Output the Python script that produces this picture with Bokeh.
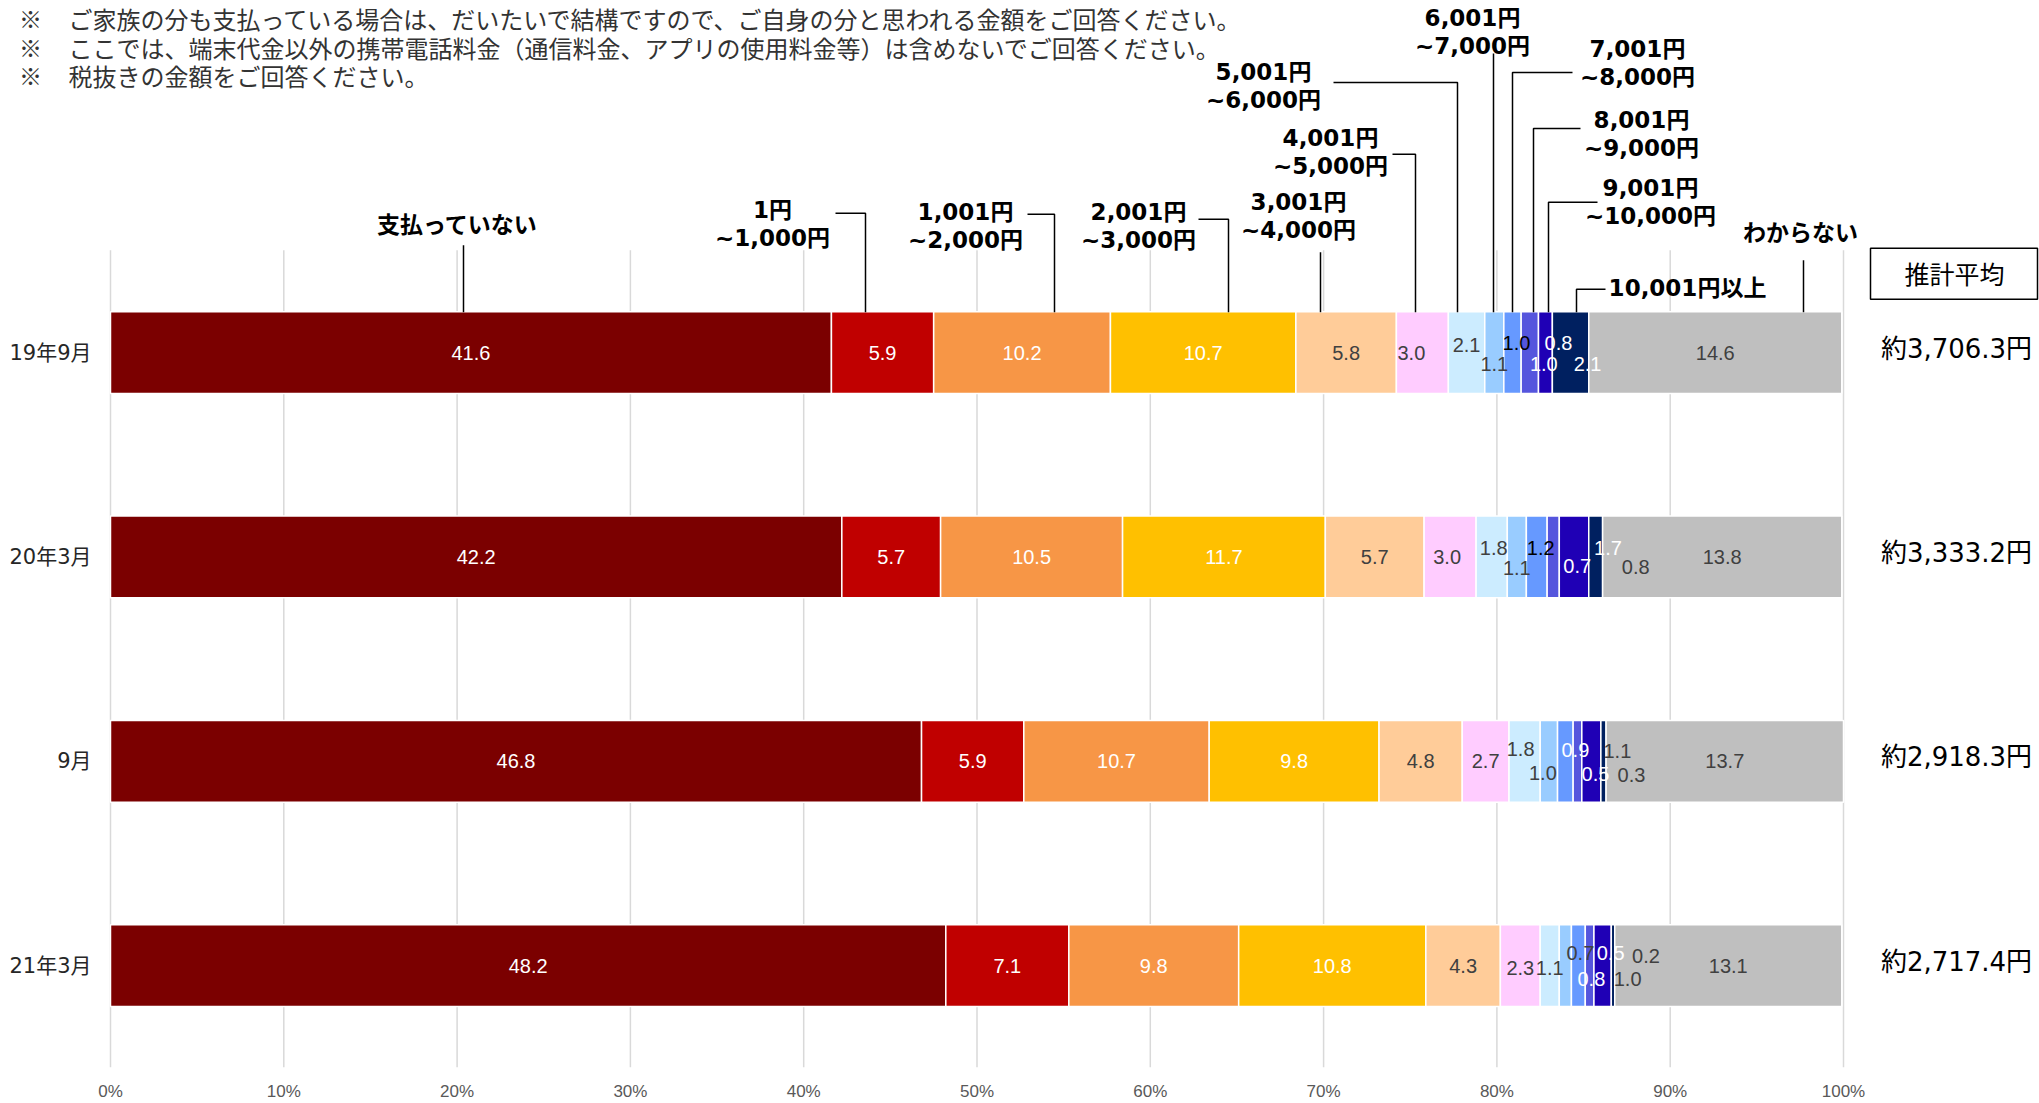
import numpy as np
from bokeh.plotting import figure
from bokeh.models import ColumnDataSource, Range1d, FixedTicker
from bokeh.core.properties import value
from bokeh.embed import file_html
from bokeh.resources import INLINE

# ---------------- data ----------------
ROWS = ["19年9月", "20年3月", "9月", "21年3月"]
SERIES = ["支払っていない", "1円\n~1,000円", "1,001円\n~2,000円", "2,001円\n~3,000円",
          "3,001円\n~4,000円", "4,001円\n~5,000円", "5,001円\n~6,000円", "6,001円\n~7,000円",
          "7,001円\n~8,000円", "8,001円\n~9,000円", "9,001円\n~10,000円", "10,001円以上", "わからない"]
not_paying   = [41.6, 42.2, 46.8, 48.2]
yen_1_1000   = [5.9, 5.7, 5.9, 7.1]
yen_1001_2000 = [10.2, 10.5, 10.7, 9.8]
yen_2001_3000 = [10.7, 11.7, 9.8, 10.8]
yen_3001_4000 = [5.8, 5.7, 4.8, 4.3]
yen_4001_5000 = [3.0, 3.0, 2.7, 2.3]
yen_5001_6000 = [2.1, 1.8, 1.8, 1.1]
yen_6001_7000 = [1.1, 1.1, 1.0, 0.7]
yen_7001_8000 = [1.0, 1.2, 0.9, 0.8]
yen_8001_9000 = [1.0, 0.7, 0.5, 0.5]
yen_9001_10000 = [0.8, 1.7, 1.1, 1.0]
yen_10001_plus = [2.1, 0.8, 0.3, 0.2]
unknown      = [14.6, 13.8, 13.7, 13.1]
AVERAGES = ["約3,706.3円", "約3,333.2円", "約2,918.3円", "約2,717.4円"]
AVG_TITLE = "推計平均"
TICKS = [0, 10, 20, 30, 40, 50, 60, 70, 80, 90, 100]
TICK_LABELS = ["0%", "10%", "20%", "30%", "40%", "50%", "60%", "70%", "80%", "90%", "100%"]
NOTES = ["ご家族の分も支払っている場合は、だいたいで結構ですので、ご自身の分と思われる金額をご回答ください。",
         "ここでは、端末代金以外の携帯電話料金（通信料金、アプリの使用料金等）は含めないでご回答ください。",
         "税抜きの金額をご回答ください。"]

VALUES = [not_paying, yen_1_1000, yen_1001_2000, yen_2001_3000, yen_3001_4000, yen_4001_5000,
          yen_5001_6000, yen_6001_7000, yen_7001_8000, yen_8001_9000, yen_9001_10000,
          yen_10001_plus, unknown]

# ---------------- style / layout ----------------
COLORS = ["#7B0000", "#C00000", "#F79646", "#FFC000", "#FFCC99", "#FFCCFF", "#CCECFF",
          "#99CCFF", "#6699FF", "#5555DD", "#1F00B5", "#002060", "#BFBFBF"]
W_, D_, K_ = "white", "#404040", "#000000"
LABEL_COLORS = [
    [W_, W_, W_, W_, D_, D_, D_, D_, K_, W_, W_, W_, D_],
    [W_, W_, W_, W_, D_, D_, D_, D_, K_, W_, W_, D_, D_],
    [W_, W_, W_, W_, D_, D_, D_, D_, W_, W_, D_, D_, D_],
    [W_, W_, W_, W_, D_, D_, D_, D_, W_, W_, D_, D_, D_],
]
# label offsets in pixels (dx, dy) per row / segment
LABEL_OFF = [
    [(0, 0)] * 5 + [(-11, 0), (0, -8), (0, 11), (4, -10), (14, 11), (13, -10), (17, 11), (0, 0)],
    [(0, 0)] * 5 + [(-3, 0), (2, -9), (0, 11), (4, -9), (24, 9), (34, -9), (40, 10), (0, 0)],
    [(0, 0)] * 5 + [(0, 0), (-4, -12), (-6, 12), (10, -11), (18, 13), (26, -10), (28, 14), (0, 0)],
    [(0, 0)] * 5 + [(0, 2), (0, 2), (15, -13), (13, 13), (21, -13), (25, 13), (33, -10), (0, 0)],
]
# top category labels: (center x px, first line y px, leader polyline in px)
TOP_LAYOUT = [
    (457, 225, [(463, 245), (463, 312)]),
    (772, 210, [(835, 213), (865, 213), (865, 312)]),
    (965, 212, [(1027, 214), (1054, 214), (1054, 312)]),
    (1138, 212, [(1198, 219), (1228, 219), (1228, 312)]),
    (1298, 202, [(1320, 252), (1320, 312)]),
    (1330, 138, [(1392, 154), (1415, 154), (1415, 312)]),
    (1263, 72, [(1333, 82), (1457, 82), (1457, 312)]),
    (1472, 18, [(1493, 53), (1493, 312)]),
    (1637, 49, [(1572, 72), (1512, 72), (1512, 312)]),
    (1641, 120, [(1580, 128), (1533, 128), (1533, 312)]),
    (1650, 188, [(1597, 202), (1548, 202), (1548, 312)]),
    (1687, 288, [(1605, 289), (1576, 289), (1576, 312)]),
    (1800, 233, [(1803, 260), (1803, 312)]),
]

W, H = 2039, 1103
FH = 1068
PX0, PXPER = 110.0, 17.33
ROW0, ROWSTEP = 352.5, 204.5
BAR_H = 0.40
FONT = "DejaVu Sans, Noto Sans CJK JP"
CJK = "Noto Sans CJK JP"


def dx(px):
    return (px - PX0) / PXPER


def dy(py):
    return (py - ROW0) / ROWSTEP


p = figure(width=W, height=H, x_range=Range1d(dx(0), dx(W)), y_range=Range1d(dy(FH), dy(0)),
           output_backend="svg", toolbar_location=None, y_axis_location=None,
           min_border=0, outline_line_color=None, background_fill_color="white")
p.min_border_left = p.min_border_right = p.min_border_top = p.min_border_bottom = 0
p.grid.visible = False

# gridlines
p.segment(x0=TICKS, x1=TICKS, y0=[dy(250)] * len(TICKS), y1=[dy(FH)] * len(TICKS),
          line_color="#D9D9D9", line_width=1.5)

# bars
rows_idx = np.arange(len(ROWS))
vals = np.array(VALUES)  # series x rows
cum = np.cumsum(vals, axis=0)
starts = cum - vals
for s in range(len(SERIES)):
    src = ColumnDataSource(dict(y=rows_idx, left=starts[s], right=cum[s]))
    p.hbar(y="y", left="left", right="right", height=BAR_H, source=src,
           fill_color=COLORS[s], line_color="white", line_width=1.5)

# value labels
lx, ly, lt, lc = [], [], [], []
for s in range(len(SERIES)):
    for r in range(len(ROWS)):
        ox, oy = LABEL_OFF[r][s]
        lx.append((starts[s][r] + cum[s][r]) / 2 + ox / PXPER)
        ly.append(r + oy / ROWSTEP)
        lt.append(f"{vals[s][r]:.1f}")
        lc.append(LABEL_COLORS[r][s])
p.text(x=lx, y=ly, text=lt, text_color=lc, text_align="center", text_baseline="middle",
       text_font=value("Liberation Sans"), text_font_size="20px")

# row labels
p.text(x=[dx(91)] * len(ROWS), y=rows_idx, text=ROWS, text_align="right", text_baseline="middle",
       text_font=value(FONT), text_font_size="21px", text_color="#262626")

# averages
p.quad(left=[dx(1870)], right=[dx(2037)], top=[dy(248)], bottom=[dy(299)],
       fill_color=None, line_color="#000000", line_width=1.5)
p.text(x=[dx(1954)], y=[dy(273)], text=[AVG_TITLE], text_align="center", text_baseline="middle",
       text_font=value(CJK), text_font_size="25px", text_color="#000000")
p.text(x=[dx(1956)] * len(ROWS), y=rows_idx - 4 / ROWSTEP, text=AVERAGES, text_align="center",
       text_baseline="middle", text_font=value(FONT), text_font_size="26px", text_color="#000000")

# top category labels and leaders
tx, ty, tt = [], [], []
xs, ys = [], []
for name, (cx, cy, pts) in zip(SERIES, TOP_LAYOUT):
    for i, line in enumerate(name.split("\n")):
        tx.append(dx(cx))
        ty.append(dy(cy + 28 * i))
        tt.append(line)
    xs.append([dx(a) for a, b in pts])
    ys.append([dy(b) for a, b in pts])
p.multi_line(xs=xs, ys=ys, line_color="#000000", line_width=1.5)
p.text(x=tx, y=ty, text=tt, text_align="center", text_baseline="middle",
       text_font=value(FONT), text_font_size="23px", text_font_style="bold", text_color="#000000")

# notes
note_y = [18, 47, 75]
p.text(x=[dx(30)] * 3, y=[dy(v) for v in note_y], text=["※"] * 3, text_align="center",
       text_baseline="middle", text_font=value(CJK), text_font_size="23px", text_color="#333333")
p.text(x=[dx(68)] * 3, y=[dy(v) for v in note_y], text=NOTES, text_align="left",
       text_baseline="middle", text_font=value(CJK), text_font_size="24px", text_color="#333333",
       text_font_style="normal")

# x axis
ax = p.xaxis[0]
ax.ticker = FixedTicker(ticks=TICKS)
ax.major_label_overrides = {t: l for t, l in zip(TICKS, TICK_LABELS)}
ax.axis_line_color = None
ax.major_tick_line_color = None
ax.minor_tick_line_color = None
ax.major_label_standoff = 8
ax.major_label_text_font = "Liberation Sans Narrow, Liberation Sans"
ax.major_label_text_font_size = "17px"
ax.major_label_text_color = "#595959"

open("out.html", "w").write(file_html(p, INLINE))
